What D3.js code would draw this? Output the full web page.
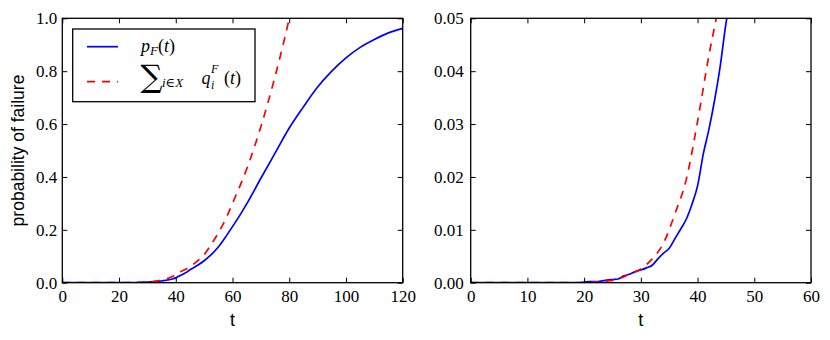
<!DOCTYPE html>
<html><head><meta charset="utf-8">
<script src="https://cdnjs.cloudflare.com/ajax/libs/d3/7.8.5/d3.min.js"></script>
<style>
body{margin:0;background:#fff;}
svg{display:block;}
.lab{font-family:"Liberation Sans",Arial,sans-serif;font-size:18px;fill:#000;}
.m{font-family:"Liberation Serif","DejaVu Serif",serif;fill:#000;}
</style></head>
<body>
<script>
// ---- data ----
const timesP = [0,5,10,15,19,20,21,22,23,24,25,26,27,28,29,30,31,32,33,34,35,36,37,38,39,40,41,42,43,44,45,46,48,50,52,55,58,60,63,65,70,75,80,85,90,95,100,105,110,115,120];
const pF     = [0,0,0,0,0,0.0001,0.0002,0.0002,0.0003,0.0005,0.0006,0.0007,0.0013,0.0016,0.0021,0.0024,0.0028,0.0033,0.0045,0.0056,0.0065,0.0083,0.0101,0.012,0.0148,0.0183,0.0243,0.029,0.0345,0.041,0.049,0.055,0.068,0.083,0.101,0.135,0.18,0.212,0.262,0.298,0.395,0.49,0.585,0.665,0.74,0.80,0.85,0.89,0.92,0.945,0.962];
const timesQ = [0,5,10,15,20,22,24,26,28,30,32,34,36,38,40,42,44,46,48,50,52,55,58,60,65,70,75,80,82];
const sumQ   = [0,0,0,0,0,0.0001,0.0003,0.0007,0.0016,0.0026,0.0045,0.0075,0.013,0.0195,0.0305,0.043,0.054,0.068,0.085,0.106,0.137,0.188,0.25,0.30,0.43,0.59,0.78,1.0,1.1];
const xTicksLeft  = [0,20,40,60,80,100,120];
const yTicksLeft  = [0,0.2,0.4,0.6,0.8,1.0];
const xTicksRight = [0,10,20,30,40,50,60];
const yTicksRight = [0,0.01,0.02,0.03,0.04,0.05];
const xLabel = "t";
const yLabel = "probability of failure";

const W = 830, H = 340;
const plotTop = 18.3, plotBottom = 282.7;
const svg = d3.select("body").append("svg").attr("width", W).attr("height", H);

const panels = [
  {id:"L", x0:62.3, x1:402.7, xd:[0,120], yd:[0,1], xt:xTicksLeft, yt:yTicksLeft, yf:d3.format(".1f"), pad:5, ylab:true},
  {id:"R", x0:470.7, x1:811, xd:[0,60], yd:[0,0.05], xt:xTicksRight, yt:yTicksRight, yf:d3.format(".2f"), pad:7, ylab:false}
];

const blueData = timesP.map((t,i)=>({t, v:pF[i]}));
const redData  = timesQ.map((t,i)=>({t, v:sumQ[i]}));

panels.forEach(p => {
  const x = d3.scaleLinear().domain(p.xd).range([p.x0, p.x1]);
  const y = d3.scaleLinear().domain(p.yd).range([plotBottom, plotTop]);
  const g = svg.append("g");
  svg.append("clipPath").attr("id","clip"+p.id).append("rect")
    .attr("x",p.x0).attr("y",plotTop).attr("width",p.x1-p.x0).attr("height",plotBottom-plotTop);
  const line = d3.line().x(d=>x(d.t)).y(d=>y(d.v)).curve(d3.curveMonotoneX);
  const lg = g.append("g").attr("clip-path","url(#clip"+p.id+")");
  lg.append("path").datum(blueData).attr("d",line).attr("fill","none")
    .attr("stroke","#0000ff").attr("stroke-width",1.7).attr("stroke-linejoin","round");
  lg.append("path").datum(redData).attr("d",line).attr("fill","none")
    .attr("stroke","#ff0000").attr("stroke-width",1.7).attr("stroke-dasharray","8,7");

  const ab = g.append("g").attr("transform",`translate(0,${plotBottom})`)
    .call(d3.axisBottom(x).tickValues(p.xt).tickFormat(d3.format("d")).tickSize(-5).tickSizeOuter(0).tickPadding(7));
  const at = g.append("g").attr("transform",`translate(0,${plotTop})`)
    .call(d3.axisTop(x).tickValues(p.xt).tickFormat("").tickSize(-5).tickSizeOuter(0));
  const al = g.append("g").attr("transform",`translate(${p.x0},0)`)
    .call(d3.axisLeft(y).tickValues(p.yt).tickFormat(p.yf).tickSize(-5).tickSizeOuter(0).tickPadding(p.pad));
  const ar = g.append("g").attr("transform",`translate(${p.x1},0)`)
    .call(d3.axisRight(y).tickValues(p.yt).tickFormat("").tickSize(-5).tickSizeOuter(0));
  [ab,at,al,ar].forEach(a => {
    a.select(".domain").remove();
    a.selectAll(".tick line").attr("stroke","#000").attr("stroke-width",1);
    a.selectAll(".tick text").attr("fill","#000")
      .attr("font-family","Liberation Serif").attr("font-size",17);
  });
  g.append("rect").attr("x",p.x0).attr("y",plotTop).attr("width",p.x1-p.x0).attr("height",plotBottom-plotTop)
    .attr("fill","none").attr("stroke","#000").attr("stroke-width",1.3);

  g.append("text").attr("class","lab").attr("x",(p.x0+p.x1)/2).attr("y",326)
    .attr("text-anchor","middle").text(xLabel);
  if (p.ylab) {
    g.append("text").attr("class","lab").attr("transform",`translate(23.5,${(plotTop+plotBottom)/2}) rotate(-90)`)
      .attr("text-anchor","middle").style("font-size","17.5px").text(yLabel);
  }
});

// legend
const leg = svg.append("g");
leg.append("rect").attr("x",72.7).attr("y",29).attr("width",182.3).attr("height",72.7)
  .attr("fill","#fff").attr("stroke","#000").attr("stroke-width",1.3);
leg.append("line").attr("x1",87).attr("x2",118).attr("y1",46.7).attr("y2",46.7)
  .attr("stroke","#0000ff").attr("stroke-width",1.7);
leg.append("line").attr("x1",87).attr("x2",118).attr("y1",81.7).attr("y2",81.7)
  .attr("stroke","#ff0000").attr("stroke-width",1.7).attr("stroke-dasharray","8,7");

const t1 = leg.append("text").attr("class","m").attr("x",141).attr("y",51.5).style("font-size","18px");
t1.append("tspan").style("font-style","italic").text("p");
t1.append("tspan").style("font-style","italic").style("font-size","13px").attr("dy",3).text("F");
t1.append("tspan").attr("dy",-3).text("(");
t1.append("tspan").style("font-style","italic").text("t");
t1.append("tspan").text(")");

leg.append("text").attr("x",140.5).attr("y",87).style("font-family","'DejaVu Serif',serif")
  .style("font-size","31px").attr("fill","#000").text("∑");
leg.append("text").attr("class","m").attr("x",162).attr("y",87).style("font-size","13px").style("font-style","italic").text("i∈X");
leg.append("text").attr("class","m").attr("x",201.5).attr("y",84).style("font-size","18px").style("font-style","italic").text("q");
leg.append("text").attr("class","m").attr("x",211).attr("y",73).style("font-size","12px").style("font-style","italic").text("F");
leg.append("text").attr("class","m").attr("x",211).attr("y",89).style("font-size","12px").style("font-style","italic").text("i");
const t2 = leg.append("text").attr("class","m").attr("x",224).attr("y",84).style("font-size","18px");
t2.append("tspan").text("(");
t2.append("tspan").style("font-style","italic").text("t");
t2.append("tspan").text(")");
</script>
</body></html>
